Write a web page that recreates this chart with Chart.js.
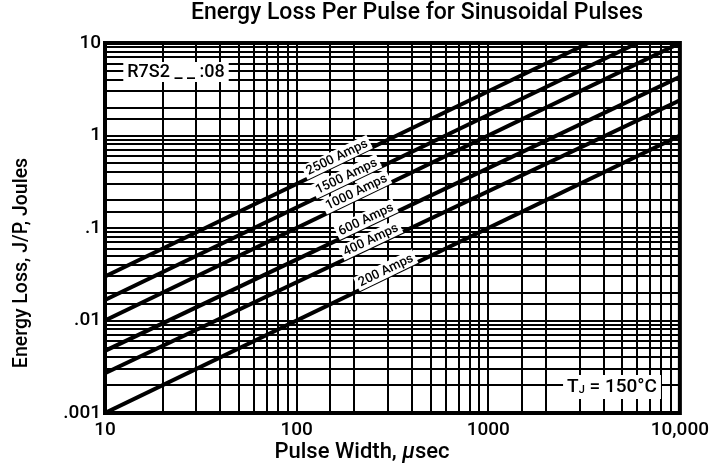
<!DOCTYPE html>
<html>
<head>
<meta charset="utf-8">
<script src="https://cdn.jsdelivr.net/npm/chart.js@4.4.0/dist/chart.umd.min.js"></script>
<style>
  html, body { margin: 0; padding: 0; background: #fff; }
</style>
</head>
<body>
<canvas id="myChart" width="715" height="467"></canvas>
<script>
// curves: energy loss per pulse vs pulse width (log-log)
var seriesNames = ["2500 Amps", "1500 Amps", "1000 Amps", "600 Amps", "400 Amps", "200 Amps"];
var startWidth = [10, 10, 10, 10, 10, 10];
var startLoss = [0.03, 0.0167, 0.01, 0.0047, 0.0027, 0.001];
var endWidth = [3333, 6000, 10000, 10000, 10000, 10000];
var endLoss = [10, 10, 10, 4.3, 2.4, 1.0];
// pulse width where each curve's label sits
var labelWidth = [168, 188, 212, 238, 252, 302];

// tick labels (decades only)
var xTickValues = [10, 100, 1000, 10000];
var xTickText = ["10", "100", "1000", "10,000"];
var yTickValues = [0.001, 0.01, 0.1, 1, 10];
var yTickText = [".001", ".01", ".1", "1", "10"];

var FONT = "Roboto, 'Liberation Sans', Arial, sans-serif";
var W = "500 ";

function decadeLabel(value, values, texts) {
  for (var i = 0; i < values.length; i++) {
    if (Math.abs(Math.log10(value) - Math.log10(values[i])) < 1e-6) return texts[i];
  }
  return "";
}

// loss on a curve at a given width (straight line in log-log)
function lossAt(i, w) {
  var t = (Math.log10(w) - Math.log10(startWidth[i])) /
    (Math.log10(endWidth[i]) - Math.log10(startWidth[i]));
  return Math.pow(10, Math.log10(startLoss[i]) + t * (Math.log10(endLoss[i]) - Math.log10(startLoss[i])));
}

var datasets = seriesNames.map(function (name, i) {
  return {
    label: name,
    data: [
      { x: startWidth[i], y: startLoss[i] },
      { x: endWidth[i], y: endLoss[i] },
    ],
    borderColor: "#000",
    borderWidth: 4,
    pointRadius: 0,
    fill: false,
  };
});

function boxText(ctx, parts, cx, cy, padX, h) {
  var total = 0;
  parts.forEach(function (p) {
    ctx.font = p.font;
    p.w = ctx.measureText(p.text).width;
    total += p.w;
  });
  ctx.fillStyle = "#fff";
  ctx.fillRect(cx - total / 2 - padX, cy - h / 2, total + 2 * padX, h);
  ctx.fillStyle = "#000";
  ctx.textBaseline = "middle";
  ctx.textAlign = "left";
  var x = cx - total / 2;
  parts.forEach(function (p) {
    ctx.font = p.font;
    ctx.fillText(p.text, x, cy + (p.dy || 0));
    x += p.w;
  });
}

var decorPlugin = {
  id: "decor",
  afterDatasetsDraw: function (chart) {
    var ctx = chart.ctx;
    var area = chart.chartArea;
    var xs = chart.scales.x;
    var ys = chart.scales.y;
    ctx.save();

    // curve labels, written along each line
    seriesNames.forEach(function (name, i) {
      var x0 = xs.getPixelForValue(startWidth[i]);
      var y0 = ys.getPixelForValue(startLoss[i]);
      var x1 = xs.getPixelForValue(endWidth[i]);
      var y1 = ys.getPixelForValue(endLoss[i]);
      var ang = Math.atan2(y1 - y0, x1 - x0);
      var px = xs.getPixelForValue(labelWidth[i]);
      var py = ys.getPixelForValue(lossAt(i, labelWidth[i]));
      ctx.save();
      ctx.translate(px, py);
      ctx.rotate(ang);
      ctx.font = W + "13px " + FONT;
      var w = ctx.measureText(name).width;
      ctx.fillStyle = "#fff";
      ctx.fillRect(-w / 2 - 3, -14, w + 6, 15);
      ctx.fillStyle = "#000";
      ctx.textAlign = "center";
      ctx.textBaseline = "middle";
      ctx.fillText(name, 0, -6);
      ctx.restore();
    });

    // part number and junction temperature boxes
    boxText(ctx, [{ text: "R7S2 _ _ :08", font: W + "18px " + FONT }], 176, 72, 4, 20);
    boxText(ctx, [
      { text: "T", font: W + "19px " + FONT },
      { text: "J", font: W + "11px " + FONT, dy: 3 },
      { text: " = 150°C", font: W + "19px " + FONT },
    ], 612, 387, 4, 24);

    // frame
    ctx.strokeStyle = "#000";
    ctx.lineWidth = 4;
    ctx.strokeRect(area.left, area.top, area.right - area.left, area.bottom - area.top);
    ctx.restore();
  },
  afterDraw: function (chart) {
    var ctx = chart.ctx;
    ctx.save();
    ctx.fillStyle = "#000";
    ctx.textBaseline = "middle";
    ctx.textAlign = "center";
    ctx.font = W + "23px " + FONT;
    ctx.fillText("Energy Loss Per Pulse for Sinusoidal Pulses", 417, 13);

    // x axis title with italic mu
    var parts = [
      { text: "Pulse Width, ", font: W + "22px " + FONT },
      { text: "\u03bc", font: "italic " + W + "22px " + FONT },
      { text: "sec", font: W + "22px " + FONT },
    ];
    var total = 0;
    parts.forEach(function (p) { ctx.font = p.font; p.w = ctx.measureText(p.text).width; total += p.w; });
    var x = 362 - total / 2;
    ctx.textAlign = "left";
    parts.forEach(function (p) { ctx.font = p.font; ctx.fillText(p.text, x, 452); x += p.w; });

    // y axis title
    ctx.translate(22, 263);
    ctx.rotate(-Math.PI / 2);
    ctx.textAlign = "center";
    ctx.font = W + "19.5px " + FONT;
    ctx.fillText("Energy Loss, J/P, Joules", 0, 0);
    ctx.restore();
  },
};

var chart = new Chart("myChart", {
  type: "line",
  data: { datasets: datasets },
  options: {
    responsive: false,
    animation: false,
    layout: { padding: { left: 0, top: 43, right: 27, bottom: 0 } },
    plugins: {
      legend: { display: false },
      tooltip: { enabled: false },
      title: { display: false },
    },
    scales: {
      x: {
        type: "logarithmic",
        min: 10,
        max: 10000,
        grid: { color: "#000", lineWidth: 2, drawTicks: false },
        border: { display: false },
        ticks: {
          autoSkip: false,
          maxRotation: 0,
          padding: 6,
          color: "#000",
          font: { family: FONT, size: 19, weight: "500" },
          callback: function (v) { return decadeLabel(v, xTickValues, xTickText); },
        },
        afterFit: function (s) { s.height = 54; },
      },
      y: {
        type: "logarithmic",
        min: 0.001,
        max: 10,
        grid: { color: "#000", lineWidth: 2, drawTicks: false },
        border: { display: false },
        ticks: {
          autoSkip: false,
          padding: 4,
          color: "#000",
          font: { family: FONT, size: 19, weight: "500" },
          callback: function (v) { return decadeLabel(v, yTickValues, yTickText); },
        },
        afterFit: function (s) { s.width = 105; },
      },
    },
  },
  plugins: [decorPlugin],
});
</script>
</body>
</html>
